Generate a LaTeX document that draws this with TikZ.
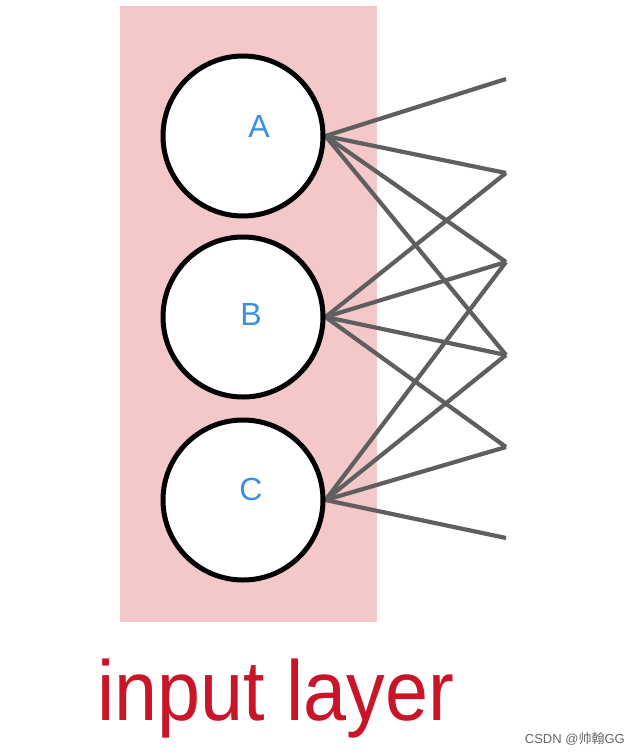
\documentclass[tikz,border=0pt]{standalone}
\usepackage{fontspec}
\usetikzlibrary{backgrounds}
\setmainfont{Liberation Sans}
\newfontfamily\cjkfont{Noto Sans CJK SC}
\definecolor{pinkbg}{RGB}{244,200,200}
\definecolor{lblue}{RGB}{58,143,224}
\definecolor{redtxt}{RGB}{200,22,40}
\definecolor{edgegray}{RGB}{95,95,95}
\tikzset{
  neuron/.style={circle, draw=black, fill=white, line width=5pt, minimum size=160pt, inner sep=0pt},
  nlabel/.style={text=lblue, font=\fontsize{32}{32}\selectfont, inner sep=0pt},
  conn/.style={draw=edgegray, line width=4.2pt},
}
\begin{document}
\begin{tikzpicture}[x=1pt,y=-1pt]
\useasboundingbox (0,0) rectangle (640,755);
% target points of hidden layer (cut off)
\coordinate (T1) at (506,79);
\coordinate (T2) at (506,173);
\coordinate (T3) at (506,262);
\coordinate (T4) at (506,355);
\coordinate (T5) at (506,447);
\coordinate (T6) at (506,538);
% input neurons
\node[neuron] (A) at (243,136) {};
\node[neuron] (B) at (243,317) {};
\node[neuron] (C) at (243,500) {};
\node[nlabel] (la) at (259,126) {A};
\node[nlabel] (lb) at (251,314) {B};
\node[nlabel] (lc) at (251,489) {C};
\begin{scope}[on background layer]
  \fill[white] (0,0) rectangle (640,755);
  \fill[pinkbg] (120,6) rectangle (377,622);
  \foreach \t in {T1,T2,T3,T4}{\draw[conn] (A.east) -- (\t);}
  \foreach \t in {T2,T3,T4,T5}{\draw[conn] (B.east) -- (\t);}
  \foreach \t in {T3,T4,T5,T6}{\draw[conn] (C.east) -- (\t);}
\end{scope}
\node[text=redtxt, anchor=base, inner sep=0pt] (title) at (276,720)
  {\scalebox{0.91}[1]{\fontsize{85}{85}\selectfont input layer}};
\node[text=black!60, anchor=base east, inner sep=0pt] (wm) at (625,743)
  {\fontsize{13}{13}\selectfont CSDN @{\cjkfont 帅翰}GG};
\end{tikzpicture}
\end{document}
